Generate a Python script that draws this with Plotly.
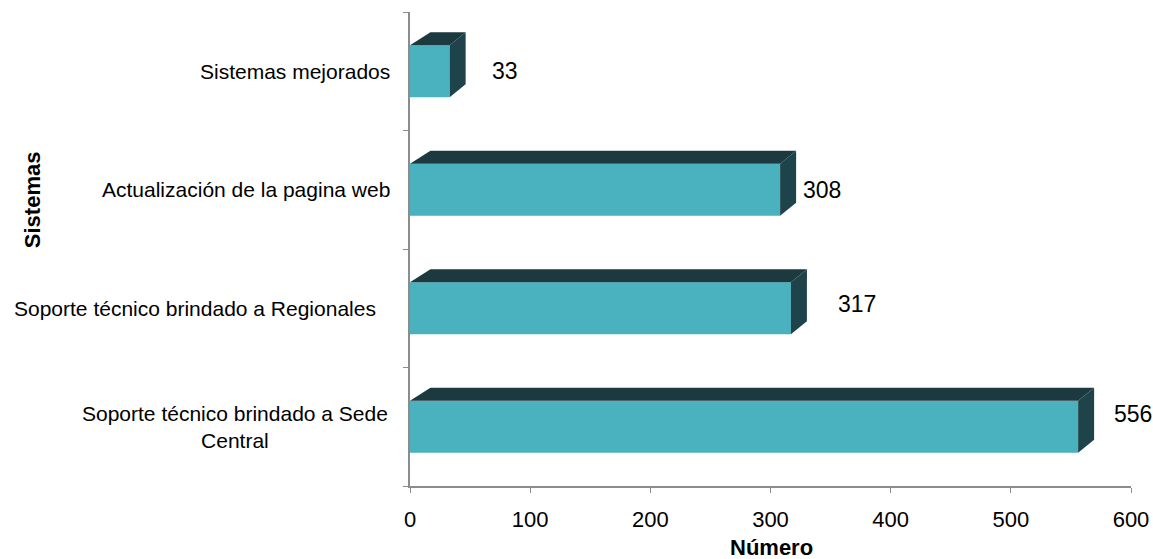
import plotly.graph_objects as go

# Data (bottom to top)
categories = [
    "Soporte técnico brindado a Sede<br>Central",
    "Soporte técnico brindado a Regionales",
    "Actualización de la pagina web",
    "Sistemas mejorados",
]
values = [556, 317, 308, 33]
x_ticks = [0, 100, 200, 300, 400, 500, 600]

# Style
FONT = "Arial, Liberation Sans, sans-serif"
FRONT = "#4AB1BE"
TOP = "#1B393F"
SIDE = "#1E434A"
AXIS = "#8C8C8C"
BAR_W = 0.44
DX = 13.3      # depth along x (data units)
DXL = 17.0     # depth of back-left corner
DY = 0.11      # depth along y (category units)
label_xshift = [55, 66, 42, 55]
label_yshift = [13, 4, 0, 0]
cat_xshift = [-20, -32, -18, -18]

ypos = list(range(len(values)))

fig = go.Figure()
fig.add_trace(go.Bar(
    x=values, y=ypos, orientation="h", width=BAR_W,
    marker=dict(color=FRONT, line=dict(width=0)),
    hoverinfo="skip", showlegend=False,
))

shapes = []
annotations = []
for i, v in enumerate(values):
    y0 = ypos[i] - BAR_W / 2
    y1 = ypos[i] + BAR_W / 2
    top = f"M 0,{y1} L {DXL},{y1 + DY} L {v + DX},{y1 + DY} L {v},{y1} Z"
    side = f"M {v},{y0} L {v},{y1} L {v + DX},{y1 + DY} L {v + DX},{y0 + DY} Z"
    shapes.append(dict(type="path", path=top, xref="x", yref="y",
                       fillcolor=TOP, line=dict(width=0), layer="above"))
    shapes.append(dict(type="path", path=side, xref="x", yref="y",
                       fillcolor=SIDE, line=dict(width=0), layer="above"))
    annotations.append(dict(
        x=v, y=ypos[i], xref="x", yref="y", text=str(v), showarrow=False,
        xanchor="center", yanchor="middle",
        xshift=label_xshift[i], yshift=label_yshift[i],
        font=dict(family=FONT, size=23, color="#000000")))
    annotations.append(dict(
        x=0, y=ypos[i], xref="paper", yref="y", text=categories[i],
        showarrow=False, xanchor="right", yanchor="middle", align="center",
        xshift=cat_xshift[i],
        font=dict(family=FONT, size=21, color="#000000")))

annotations.append(dict(
    x=0, y=0.603, xref="paper", yref="paper", text="<b>Sistemas</b>",
    showarrow=False, textangle=-90, xanchor="center", yanchor="middle",
    xshift=-378, font=dict(family=FONT, size=22, color="#000000")))
annotations.append(dict(
    x=0.502, y=0, xref="paper", yref="paper", text="<b>Número</b>",
    showarrow=False, xanchor="center", yanchor="middle",
    yshift=-61, font=dict(family=FONT, size=22, color="#000000")))

fig.update_layout(
    width=1153, height=559,
    margin=dict(l=410, r=22, t=12, b=73, autoexpand=False),
    paper_bgcolor="white", plot_bgcolor="white",
    shapes=shapes, annotations=annotations,
    xaxis=dict(range=[0, 600], tickvals=x_ticks, ticks="outside", ticklen=5,
               tickcolor=AXIS, showline=True, linecolor=AXIS, linewidth=1.5,
               showgrid=False, zeroline=False, ticklabelstandoff=8,
               automargin=False,
               tickfont=dict(family=FONT, size=22, color="#000000")),
    yaxis=dict(range=[-0.5, 3.5], tickvals=[-0.5, 0.5, 1.5, 2.5, 3.5],
               ticktext=["", "", "", "", ""], ticks="outside", ticklen=5,
               tickcolor=AXIS, showline=True, linecolor=AXIS, linewidth=1.5,
               showgrid=False, zeroline=False, automargin=False),
)

fig.write_html(
    "out.html",
    config={"displayModeBar": False},
    post_script="document.body.style.margin='0';document.body.style.overflow='hidden';",
)
